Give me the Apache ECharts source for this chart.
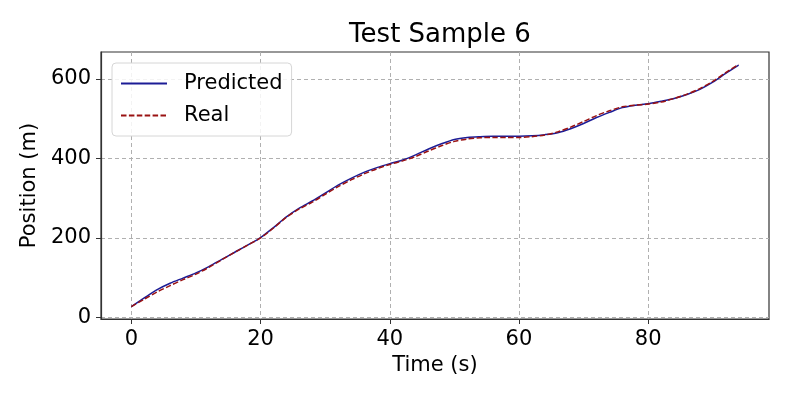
<!DOCTYPE html>
<html lang="en">
<head>
    <meta charset="UTF-8">
    <script src="https://cdn.jsdelivr.net/npm/echarts@6/dist/echarts.min.js"></script>
    <title>Test Sample 6</title>
    <style>
        html, body { margin: 0; padding: 0; background: #fff; }
        #main { width: 793px; height: 397px; }
    </style>
</head>
<body>
<div id="main"></div>
<script type="text/javascript">
    // time steps (s), read every 2 s off the picture
    var timeSteps = [0, 2, 4, 6, 8, 10, 12, 14, 16, 18, 20, 22, 24, 26, 28, 30, 32, 34, 36, 38,
        40, 42, 44, 46, 48, 50, 52, 54, 56, 58, 60, 62, 64, 66, 68, 70, 72, 74, 76, 78,
        80, 82, 84, 86, 88, 90, 92, 94];
    var predicted = [27, 49, 70, 86, 99, 112, 128, 146, 164, 182, 201, 226, 253, 275, 293, 313, 333, 350, 365, 377,
        387, 396, 409, 424, 437, 448, 453, 455, 456, 456, 456, 457, 460, 465, 475, 488, 503, 516, 528, 534,
        538, 544, 551, 561, 574, 592, 614, 635];
    var real = [27, 46, 64, 80, 95, 109, 126, 145, 164, 182, 200, 225, 252, 273, 290, 310, 329, 346, 361, 374,
        385, 394, 405, 419, 432, 443, 449, 452, 453, 453, 453, 455, 459, 467, 479, 493, 508, 520, 530, 534,
        537, 542, 551, 562, 576, 594, 616, 637];
    var xTicks = [0, 20, 40, 60, 80];
    var yTicks = [0, 200, 400, 600];

    function pairs(xs, ys) {
        var out = [];
        for (var i = 0; i < xs.length; i++) {
            out.push([xs[i], ys[i]]);
        }
        return out;
    }

    var font = 'DejaVu Sans';
    var myChart = echarts.init(document.getElementById('main'), null, {renderer: 'canvas'});

    var option = {
        backgroundColor: '#fff',
        animation: false,
        title: {
            text: 'Test Sample 6',
            left: 435,
            top: 17,
            textAlign: 'center',
            textStyle: {fontFamily: font, fontSize: 26, fontWeight: 'normal', color: '#000'}
        },
        legend: {
            orient: 'vertical',
            left: 112,
            top: 63,
            padding: [10, 9, 10, 8],
            itemWidth: 46,
            itemHeight: 14,
            itemGap: 11,
            backgroundColor: 'rgba(255,255,255,0.85)',
            borderColor: '#d6d6d6',
            borderWidth: 1,
            borderRadius: 4,
            itemStyle: {opacity: 0},
            textStyle: {fontFamily: font, fontSize: 21, color: '#000', padding: [0, 0, 0, 12]},
            data: ['Predicted', 'Real']
        },
        grid: {
            left: 101,
            right: 24,
            top: 52,
            bottom: 78,
            show: true,
            borderColor: '#333',
            borderWidth: 1.2
        },
        xAxis: {
            type: 'value',
            min: -4.7,
            max: 98.7,
            name: 'Time (s)',
            nameLocation: 'middle',
            nameGap: 36,
            nameTextStyle: {fontFamily: font, fontSize: 21, color: '#000'},
            axisLine: {show: true, onZero: false, lineStyle: {color: '#333', width: 1.2}},
            axisTick: {show: true, length: 5, customValues: xTicks, lineStyle: {color: '#333'}},
            axisLabel: {customValues: xTicks, fontFamily: font, fontSize: 21, color: '#000', margin: 10},
            splitLine: {show: true, lineStyle: {color: '#b0b0b0', type: [4, 3], width: 1}}
        },
        yAxis: {
            type: 'value',
            min: -4,
            max: 668,
            name: 'Position (m)',
            nameLocation: 'middle',
            nameGap: 58,
            nameTextStyle: {fontFamily: font, fontSize: 21, color: '#000'},
            axisLine: {show: true, onZero: false, lineStyle: {color: '#333', width: 1.2}},
            axisTick: {show: true, length: 5, customValues: yTicks, lineStyle: {color: '#333'}},
            axisLabel: {customValues: yTicks, fontFamily: font, fontSize: 21, color: '#000', margin: 10},
            splitLine: {show: true, lineStyle: {color: '#b0b0b0', type: [4, 3], width: 1}}
        },
        series: [
            {
                name: 'Predicted',
                type: 'line',
                smooth: 0.3,
                symbol: 'none',
                itemStyle: {color: '#1c1c96'},
                lineStyle: {color: '#1c1c96', width: 1.5},
                data: pairs(timeSteps, predicted)
            },
            {
                name: 'Real',
                type: 'line',
                smooth: 0.3,
                symbol: 'none',
                itemStyle: {color: '#9a1212'},
                lineStyle: {color: '#9a1212', width: 1.5, type: [5.5, 2.4]},
                data: pairs(timeSteps, real)
            }
        ]
    };
    myChart.setOption(option);
</script>
</body>
</html>
